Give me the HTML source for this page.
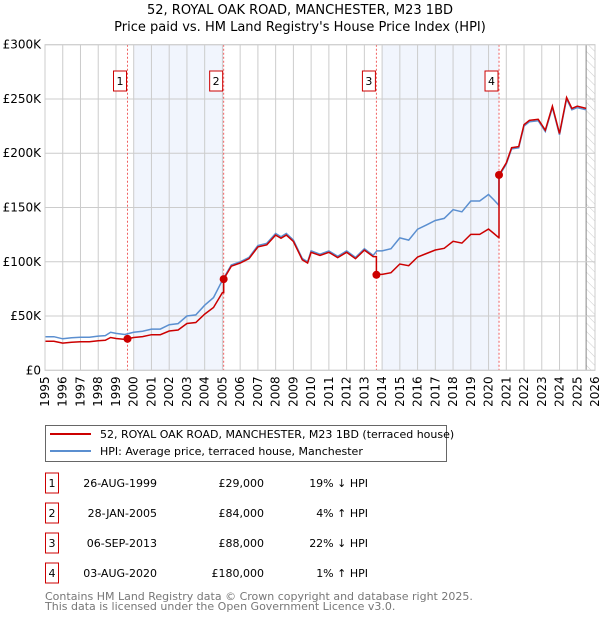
<!DOCTYPE html>
<html><head><meta charset="utf-8"><style>
body{margin:0;background:#fff;font-family:"DejaVu Sans","Liberation Sans",sans-serif;}
svg text{font-family:"DejaVu Sans","Liberation Sans",sans-serif;}
</style></head><body>
<svg id="chart" width="600" height="620" xmlns="http://www.w3.org/2000/svg">
<text x="300" y="14" text-anchor="middle" font-size="13">52, ROYAL OAK ROAD, MANCHESTER, M23 1BD</text>
<text x="300" y="31" text-anchor="middle" font-size="13">Price paid vs. HM Land Registry's House Price Index (HPI)</text>
<g id="plot"></g>
<g>
<rect x="45.5" y="425.5" width="401" height="36" fill="#fff" stroke="#666"/>
<line x1="50" y1="434" x2="91" y2="434" stroke="#cc0000" stroke-width="2"/>
<text x="100" y="438" font-size="11">52, ROYAL OAK ROAD, MANCHESTER, M23 1BD (terraced house)</text>
<line x1="50" y1="451" x2="91" y2="451" stroke="#5b8fd0" stroke-width="2"/>
<text x="100" y="455" font-size="11">HPI: Average price, terraced house, Manchester</text>
</g>
<g id="table" font-size="11"></g>
<text x="45" y="600" font-size="11" fill="#777">Contains HM Land Registry data © Crown copyright and database right 2025.</text>
<text x="45" y="610" font-size="11" fill="#777">This data is licensed under the Open Government Licence v3.0.</text>
</svg>
<script>
const hpiYears=[1995,1995.5,1996,1996.5,1997,1997.5,1998,1998.4,1998.7,1999,1999.5,2000,2000.5,2001,2001.5,2002,2002.5,2003,2003.5,2004,2004.5,2005,2005.5,2006,2006.5,2007,2007.5,2008,2008.3,2008.6,2009,2009.5,2009.8,2010,2010.5,2011,2011.5,2012,2012.5,2013,2013.5,2013.7,2014,2014.5,2015,2015.5,2016,2016.5,2017,2017.5,2018,2018.5,2019,2019.5,2020,2020.3,2020.585,2020.59,2020.7,2021,2021.3,2021.7,2022,2022.3,2022.8,2023.2,2023.6,2024,2024.4,2024.7,2025,2025.5];
const hpiValues=[31,31,29,30,30.5,30.5,31.5,32,35,34,33,35,36,38,38,42,43,50,51,60,67,83,97,100,104,115,117,126,123,126,120,103,100,110,107,110,105,110,104,112,106,110,110,112,122,120,130,134,138,140,148,146,156,156,162,157,152,179,182,190,204,205,225,229,230,220,242,217,250,240,242,240];
const saleYears=[1999.65,2005.07,2013.68,2020.59];
const salePrices=[29,84,88,180];
const saleLabels=["1","2","3","4"];
const saleDates=["26-AUG-1999","28-JAN-2005","06-SEP-2013","03-AUG-2020"];
const salePriceText=["£29,000","£84,000","£88,000","£180,000"];
const saleHpiText=["19% ↓ HPI","4% ↑ HPI","22% ↓ HPI","1% ↑ HPI"];
const yTicks=[0,50,100,150,200,250,300];
const yTickLabels=["£0","£50K","£100K","£150K","£200K","£250K","£300K"];
const xTicks=[];for(let y=1995;y<=2026;y++)xTicks.push(y);

const X0=45,X1=595,Y0=370.3,Y1=44.7;
const x=v=>X0+(v-1995)*(X1-X0)/31;
const y=v=>Y0-v*(Y0-Y1)/300;
const NS="http://www.w3.org/2000/svg";
const plot=document.getElementById('plot');
function mk(tag,attrs,parent){const e=document.createElementNS(NS,tag);for(const k in attrs)e.setAttribute(k,attrs[k]);(parent||plot).appendChild(e);return e;}
function hpiAt(t){for(let i=0;i<hpiYears.length-1;i++){if(t<=hpiYears[i+1]){const f=(t-hpiYears[i])/(hpiYears[i+1]-hpiYears[i]);return hpiValues[i]+f*(hpiValues[i+1]-hpiValues[i]);}}return hpiValues[hpiValues.length-1];}

[[0,1],[2,3]].forEach((p,i)=>{
 const r=mk('rect',{x:x(Math.ceil(saleYears[p[0]])),y:Y1,width:x(saleYears[p[1]])-x(Math.ceil(saleYears[p[0]])),height:Y0-Y1,fill:'#eef3fc',opacity:0.8});
 
 
});
const defs=mk('defs',{});
const pat=mk('pattern',{id:'hatch',width:6,height:6,patternUnits:'userSpaceOnUse',patternTransform:'rotate(-45)'},defs);
mk('line',{x1:0,y1:0,x2:0,y2:6,stroke:'#ccc','stroke-width':1},pat);
const hr=mk('rect',{x:x(2025.5),y:Y1,width:X1-x(2025.5),height:Y0-Y1,fill:'url(#hatch)'});


mk('line',{x1:x(2025.5),y1:Y1,x2:x(2025.5),y2:Y0,stroke:'#888','stroke-width':1});
xTicks.forEach(t=>{
 mk('line',{x1:x(t),y1:Y1,x2:x(t),y2:Y0,stroke:'#ccc','stroke-width':1});
 const tx=mk('text',{x:0,y:0,'font-size':12,'text-anchor':'end',transform:`translate(${x(t)+4},${Y0+6}) rotate(-90)`});
 tx.textContent=t;
 
 
});
yTicks.forEach((t,i)=>{
 mk('line',{x1:X0,y1:y(t),x2:X1,y2:y(t),stroke:'#ccc','stroke-width':1});
 const tx=mk('text',{x:X0-4,y:y(t)+4,'font-size':12,'text-anchor':'end'});
 tx.textContent=yTickLabels[i];
 
 
});
saleYears.forEach((s,i)=>{
 mk('line',{x1:x(s),y1:Y1,x2:x(s),y2:Y0,stroke:'#f06060','stroke-width':1,'stroke-dasharray':'2,2'});
 const g=mk('g',{});
 
 
 mk('rect',{x:x(s)-14,y:71,width:13,height:20,fill:'#fff',stroke:'#cc0000'},g);
 const t=mk('text',{x:x(s)-7.5,y:85,'font-size':11,'text-anchor':'middle'},g);t.textContent=saleLabels[i];
});
let d='';hpiYears.forEach((t,i)=>{d+=(i?'L':'M')+x(t).toFixed(1)+','+y(hpiValues[i]).toFixed(1);});
const hl=mk('path',{d:d,fill:'none',stroke:'#5b8fd0','stroke-width':1.5});


function factorAt(t){let k=-1;for(let i=0;i<saleYears.length;i++)if(t>=saleYears[i])k=i;const j=Math.max(k,0);return salePrices[j]/hpiAt(saleYears[j]);}
let pts=[];hpiYears.forEach((t,i)=>{
 saleYears.forEach(s=>{if(i>0&&s>hpiYears[i-1]&&s<=t){pts.push([s,hpiAt(hpiYears[i-1])*factorAt(s-0.001)]);pts.push([s,hpiAt(s)*factorAt(s)]);}});
 pts.push([t,hpiValues[i]*factorAt(t)]);
});
pts.sort((a,b)=>a[0]-b[0]);
let d2='';pts.forEach((p,i)=>{d2+=(i?'L':'M')+x(p[0]).toFixed(1)+','+y(p[1]).toFixed(1);});
const pl=mk('path',{d:d2,fill:'none',stroke:'#cc0000','stroke-width':1.5});


saleYears.forEach((s,i)=>{
 const c=mk('circle',{cx:x(s),cy:y(salePrices[i]),r:4,fill:'#cc0000'});
 
 
});
mk('rect',{x:X0,y:Y1,width:X1-X0,height:Y0-Y1,fill:'none',stroke:'#ccc'});
const tb=document.getElementById('table');
const rowY=[483,513,543,573];
saleLabels.forEach((l,i)=>{
 const g=mk('g',{},tb);
 
 
 mk('rect',{x:45.5,y:rowY[i]-10,width:13,height:20,fill:'#fff',stroke:'#cc0000'},g);
 mk('text',{x:52,y:rowY[i]+4,'text-anchor':'middle'},g).textContent=l;
 mk('text',{x:157,y:rowY[i]+4,'text-anchor':'end'},g).textContent=saleDates[i];
 mk('text',{x:264,y:rowY[i]+4,'text-anchor':'end'},g).textContent=salePriceText[i];
 mk('text',{x:368,y:rowY[i]+4,'text-anchor':'end'},g).textContent=saleHpiText[i];
});
</script>
</body></html>
